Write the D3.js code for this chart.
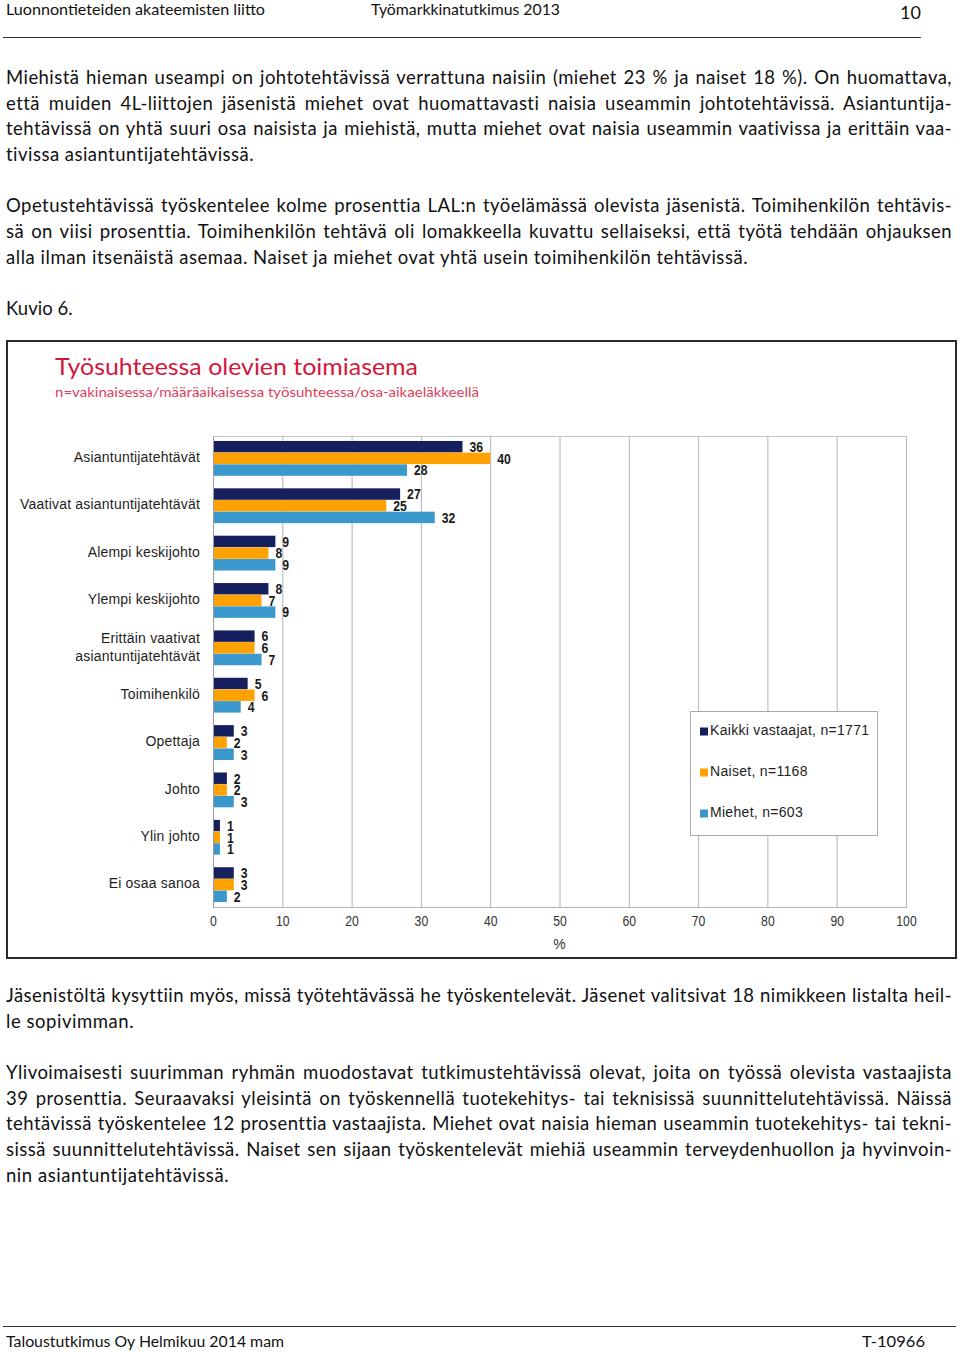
<!DOCTYPE html>
<html><head><meta charset="utf-8">
<script src="https://cdn.jsdelivr.net/npm/d3@7"></script>
<style>
html,body{margin:0;padding:0;background:#fff;}
svg{display:block;}
</style></head>
<body>
<script>
// ---- Chart data ----
const categories = ["Asiantuntijatehtävät","Vaativat asiantuntijatehtävät","Alempi keskijohto","Ylempi keskijohto","Erittäin vaativat|asiantuntijatehtävät","Toimihenkilö","Opettaja","Johto","Ylin johto","Ei osaa sanoa"];
const seriesNames = ["Kaikki vastaajat, n=1771","Naiset, n=1168","Miehet, n=603"];
const kaikki = [36,27,9,8,6,5,3,2,1,3];
const naiset = [40,25,8,7,6,6,2,2,1,3];
const miehet = [28,32,9,9,7,4,3,3,1,2];
const xTicks = [0,10,20,30,40,50,60,70,80,90,100];
const seriesColors = ["#17205e","#ffa200","#3a98cc"];

const chartTitle = "Työsuhteessa olevien toimiasema";
const chartSubtitle = "n=vakinaisessa/määräaikaisessa työsuhteessa/osa-aikaeläkkeellä";
const axisTitle = "%";

// ---- Page text ----
const headerLeft = "Luonnontieteiden akateemisten liitto";
const headerMid = "Työmarkkinatutkimus 2013";
const pageNo = "10";
const footerLeft = "Taloustutkimus Oy Helmikuu 2014 mam";
const footerRight = "T-10966";
// [text, justified, lineWidthIfNotJustified]
const textBefore = [
  ["Miehistä hieman useampi on johtotehtävissä verrattuna naisiin (miehet 23 % ja naiset 18 %). On huomattava,", true],
  ["että muiden 4L-liittojen jäsenistä miehet ovat huomattavasti naisia useammin johtotehtävissä. Asiantuntija-", true],
  ["tehtävissä on yhtä suuri osa naisista ja miehistä, mutta miehet ovat naisia useammin vaativissa ja erittäin vaa-", true],
  ["tivissa asiantuntijatehtävissä.", false, 248],
  null,
  ["Opetustehtävissä työskentelee kolme prosenttia LAL:n työelämässä olevista jäsenistä. Toimihenkilön tehtävis-", true],
  ["sä on viisi prosenttia. Toimihenkilön tehtävä oli lomakkeella kuvattu sellaiseksi, että työtä tehdään ohjauksen", true],
  ["alla ilman itsenäistä asemaa. Naiset ja miehet ovat yhtä usein toimihenkilön tehtävissä.", false, 742],
  null,
  ["Kuvio 6.", false, 67]
];
const textAfter = [
  ["Jäsenistöltä kysyttiin myös, missä työtehtävässä he työskentelevät. Jäsenet valitsivat 18 nimikkeen listalta heil-", true],
  ["le sopivimman.", false, 128],
  null,
  ["Ylivoimaisesti suurimman ryhmän muodostavat tutkimustehtävissä olevat, joita on työssä olevista vastaajista", true],
  ["39 prosenttia. Seuraavaksi yleisintä on työskennellä tuotekehitys- tai teknisissä suunnittelutehtävissä. Näissä", true],
  ["tehtävissä työskentelee 12 prosenttia vastaajista. Miehet ovat naisia hieman useammin tuotekehitys- tai tekni-", true],
  ["sissä suunnittelutehtävissä. Naiset sen sijaan työskentelevät miehiä useammin terveydenhuollon ja hyvinvoin-", true],
  ["nin asiantuntijatehtävissä.", false, 223]
];

const W = 960, H = 1352;
const svg = d3.select("body").append("svg").attr("width", W).attr("height", H);
const bodyFont = "Lato, 'Open Sans', sans-serif";
const chartFont = "'Liberation Sans', Arial, sans-serif";
const narrowFont = "'Liberation Sans Narrow', 'Arial Narrow', 'Liberation Sans', sans-serif";

// Header
const hdr = svg.append("g").attr("font-family", bodyFont).attr("fill", "#111");
hdr.append("text").attr("x", 6).attr("y", 15).attr("font-size", 15).attr("textLength", 259).attr("lengthAdjust","spacingAndGlyphs").text(headerLeft);
hdr.append("text").attr("x", 371).attr("y", 15).attr("font-size", 15).attr("textLength", 189).attr("lengthAdjust","spacingAndGlyphs").text(headerMid);
hdr.append("text").attr("x", 921).attr("y", 19).attr("font-size", 18).attr("text-anchor","end").text(pageNo);
svg.append("line").attr("x1", 3).attr("x2", 921).attr("y1", 37.5).attr("y2", 37.5).attr("stroke", "#333").attr("stroke-width", 1);

// Footer
svg.append("line").attr("x1", 3).attr("x2", 956).attr("y1", 1326.5).attr("y2", 1326.5).attr("stroke", "#333").attr("stroke-width", 1);
const ftr = svg.append("g").attr("font-family", bodyFont).attr("fill", "#111").attr("font-size", 15.5);
ftr.append("text").attr("x", 6).attr("y", 1347).attr("textLength", 278).attr("lengthAdjust","spacingAndGlyphs").text(footerLeft);
ftr.append("text").attr("x", 925).attr("y", 1347).attr("text-anchor","end").attr("textLength", 63).attr("lengthAdjust","spacingAndGlyphs").text(footerRight);

// Paragraphs
function drawLines(lines, y0) {
  const g = svg.append("g").attr("font-family", bodyFont).attr("font-size", 18.5)
    .attr("letter-spacing", 0.45).attr("fill", "#111");
  let y = y0;
  lines.forEach(l => {
    if (l) {
      const t = g.append("text").attr("x", 6).attr("y", y).attr("xml:space","preserve").text(l[0]);
      if (l[1]) {
        const w = t.node().getComputedTextLength();
        const spaces = (l[0].match(/ /g) || []).length;
        if (spaces > 0) t.attr("word-spacing", ((946 - w) / spaces).toFixed(3));
      } else {
        t.attr("textLength", l[2]).attr("lengthAdjust", "spacing");
      }
    }
    y += 25.65;
  });
}
drawLines(textBefore, 84);
drawLines(textAfter, 1002);

// Chart frame
svg.append("rect").attr("x", 7).attr("y", 341).attr("width", 949).attr("height", 617)
  .attr("fill", "#fff").attr("stroke", "#2a2a2a").attr("stroke-width", 2);

svg.append("text").attr("x", 55).attr("y", 375).attr("font-family", bodyFont).attr("font-size", 24)
  .attr("fill", "#d3173b").attr("textLength", 363).attr("lengthAdjust","spacingAndGlyphs").text(chartTitle);
svg.append("text").attr("x", 55).attr("y", 397).attr("font-family", bodyFont).attr("font-size", 13.5)
  .attr("fill", "#dc3f5c").attr("textLength", 424).attr("lengthAdjust","spacingAndGlyphs").text(chartSubtitle);

// Plot
const plot = {left: 213, right: 906, top: 436, bottom: 907};
const x = d3.scaleLinear().domain([0, 100]).range([plot.left, plot.right]);
const y = d3.scaleBand().domain(d3.range(categories.length)).range([plot.top, plot.bottom]).paddingInner(0.255).paddingOuter(0.1);
const ys = d3.scaleBand().domain([0,1,2]).range([0, y.bandwidth()]).padding(0.02);
const data = [kaikki, naiset, miehet];

const gp = svg.append("g");
gp.selectAll("line.grid").data(xTicks).join("line").attr("class","grid")
  .attr("x1", d => x(d) + 0.5).attr("x2", d => x(d) + 0.5)
  .attr("y1", plot.top).attr("y2", plot.bottom)
  .attr("stroke", d => d === 0 ? "#9a9a9a" : "#b4b4b4").attr("stroke-width", 1);
gp.append("line").attr("x1", plot.left).attr("x2", plot.right + 1).attr("y1", plot.top + 0.5).attr("y2", plot.top + 0.5).attr("stroke", "#c4c4c4");
gp.append("line").attr("x1", plot.left).attr("x2", plot.right + 1).attr("y1", plot.bottom + 0.5).attr("y2", plot.bottom + 0.5).attr("stroke", "#b4b4b4");

// bars + value labels
data.forEach((vals, si) => {
  gp.selectAll("rect.s" + si).data(vals).join("rect").attr("class", "s" + si)
    .attr("x", plot.left + 1)
    .attr("y", (d, i) => y(i) + ys(si))
    .attr("width", d => x(d) - plot.left - 1)
    .attr("height", ys.bandwidth())
    .attr("fill", seriesColors[si]);
  gp.selectAll("text.v" + si).data(vals).join("text").attr("class", "v" + si)
    .attr("x", d => x(d) + 7)
    .attr("y", (d, i) => y(i) + ys(si) + ys.bandwidth() / 2 + 1.5)
    .attr("dominant-baseline", "middle")
    .attr("font-family", narrowFont).attr("font-size", 14.5).attr("font-weight", "bold")
    .attr("fill", "#1a1a1a")
    .attr("textLength", d => String(d).length * 6.8).attr("lengthAdjust", "spacingAndGlyphs")
    .text(d => d);
});

// category labels
const cg = svg.append("g").attr("font-family", chartFont).attr("font-size", 14).attr("fill", "#1e1e1e")
  .attr("letter-spacing", 0.2).attr("text-anchor", "end");
categories.forEach((c, i) => {
  const parts = c.split("|");
  const cy = y(i) + y.bandwidth() / 2;
  parts.forEach((p, k) => {
    cg.append("text").attr("x", 200).attr("y", cy + (k - (parts.length - 1) / 2) * 18)
      .attr("dominant-baseline", "middle").text(p);
  });
});

// x axis
const xa = svg.append("g").attr("transform", `translate(0,${plot.bottom})`)
  .call(d3.axisBottom(x).tickValues(xTicks).tickSize(0).tickPadding(9));
xa.select(".domain").remove();
xa.selectAll("text").attr("font-family", narrowFont).attr("font-size", 14).attr("fill", "#333")
  .attr("textLength", d => String(d).length * 6.8).attr("lengthAdjust", "spacingAndGlyphs");
svg.append("text").attr("x", x(50)).attr("y", 945).attr("text-anchor", "middle").attr("dominant-baseline","middle")
  .attr("font-family", narrowFont).attr("font-size", 14).attr("fill", "#333").text(axisTitle);

// legend
const lg = svg.append("g").attr("transform", "translate(690,711)");
lg.append("rect").attr("x", 0.5).attr("y", 0.5).attr("width", 187).attr("height", 124)
  .attr("fill", "#fff").attr("stroke", "#a8a8a8");
seriesNames.forEach((n, i) => {
  const cy = 20.5 + i * 41;
  lg.append("rect").attr("x", 10).attr("y", cy - 4).attr("width", 8).attr("height", 8).attr("fill", seriesColors[i]);
  lg.append("text").attr("x", 20).attr("y", cy).attr("dominant-baseline", "middle")
    .attr("font-family", chartFont).attr("font-size", 14).attr("letter-spacing", 0.3).attr("fill", "#1e1e1e").text(n);
});
</script>
</body></html>
